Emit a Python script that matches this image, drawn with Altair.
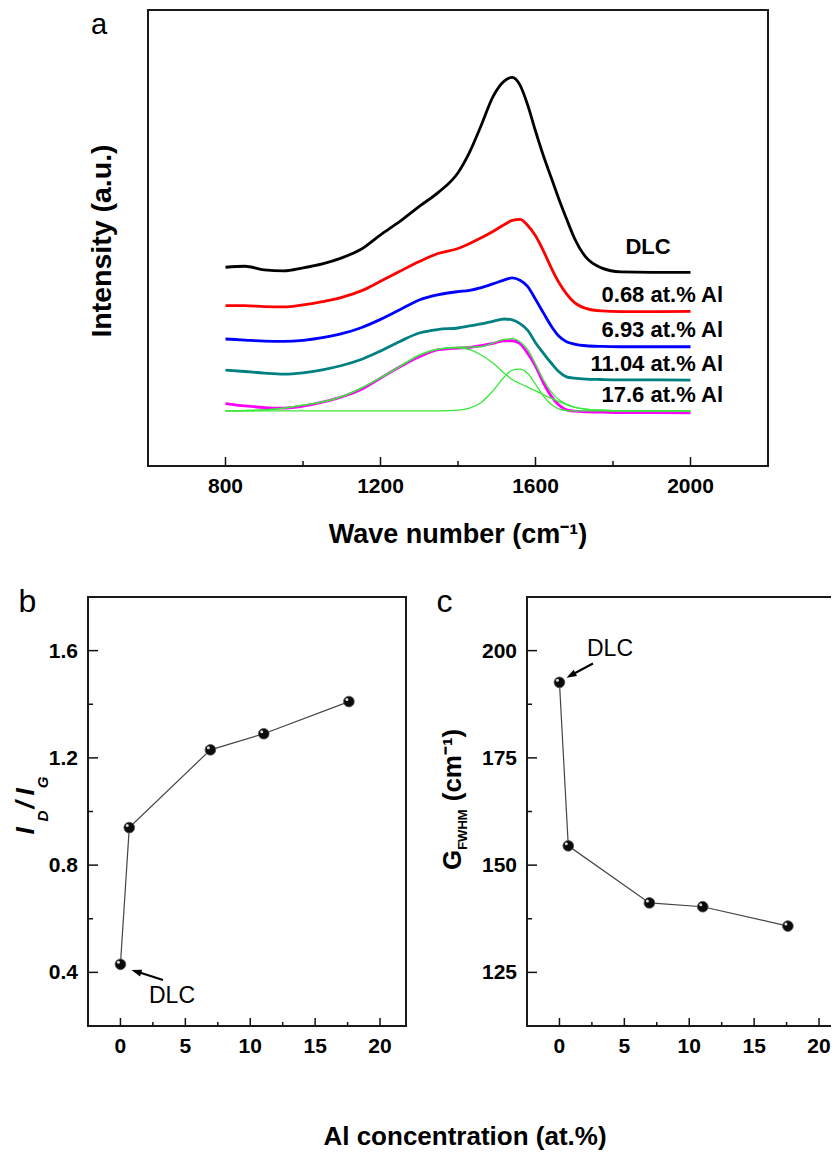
import altair as alt
import pandas as pd

# ---------------- data ----------------
wavenumber = [800, 850, 900, 950, 1000, 1050, 1100, 1150, 1200, 1250, 1300, 1350,
              1400, 1430, 1460, 1490, 1520, 1540, 1560, 1580, 1600, 1620, 1640,
              1660, 1680, 1700, 1730, 1770, 1820, 1900, 2000]

int_dlc = [198.3, 199.3, 195.7, 194.7, 197.7, 201.7, 207.7, 216.3, 230.7, 244.0,
           259.0, 273.3, 292.7, 313.3, 340.0, 368.3, 384.3, 387.7, 380.0, 360.0,
           334.3, 310.0, 288.3, 266.7, 246.7, 227.7, 208.3, 197.7, 193.7, 193.3, 193.3]
int_068 = [160.0, 160.0, 159.0, 158.7, 160.7, 164.0, 168.3, 174.7, 184.3, 194.3,
           204.0, 212.3, 217.0, 222.0, 227.7, 234.0, 241.0, 245.0, 246.0, 240.0,
           229.7, 215.0, 198.3, 183.3, 171.7, 163.3, 157.3, 154.7, 154.0, 154.0, 154.3]
int_693 = [126.7, 125.7, 124.7, 124.3, 125.3, 128.0, 132.0, 138.0, 146.3, 156.0,
           165.7, 171.0, 174.0, 175.3, 178.0, 181.7, 185.7, 187.7, 185.3, 179.0,
           166.3, 153.0, 140.0, 129.7, 124.0, 121.7, 120.0, 119.3, 119.0, 119.0, 119.0]
int_1104 = [95.7, 94.3, 92.7, 91.7, 93.0, 96.0, 100.3, 106.3, 114.7, 124.3,
            132.7, 136.3, 137.7, 139.7, 141.7, 144.3, 146.7, 145.7, 142.0, 135.3,
            123.0, 112.7, 103.0, 94.3, 89.0, 87.7, 86.7, 86.3, 86.0, 86.0, 85.7]
int_176 = [62.3, 60.0, 58.3, 57.7, 59.7, 63.7, 69.0, 76.3, 87.7, 99.0,
           109.0, 116.0, 117.7, 118.3, 120.0, 122.3, 125.0, 125.0, 122.0, 112.3,
           99.7, 83.3, 70.0, 61.0, 56.0, 54.7, 54.0, 53.7, 53.3, 53.3, 53.0]

fit_d_band = [55.0, 55.3, 56.0, 57.7, 60.7, 64.0, 69.3, 77.7, 88.0, 99.3,
              110.7, 116.7, 118.0, 116.0, 110.7, 102.7, 92.3, 86.3, 82.3, 78.7,
              75.0, 71.3, 67.7, 64.3, 61.3, 58.7, 56.7, 55.7, 55.0, 55.0, 55.0]
fit_g_band = [55.0, 55.0, 55.0, 55.0, 55.0, 55.0, 55.0, 55.0, 55.0, 55.0,
              55.0, 55.0, 55.7, 57.7, 63.3, 75.0, 89.0, 95.7, 96.7, 92.3,
              81.7, 70.0, 61.7, 57.0, 55.3, 55.0, 55.0, 55.0, 55.0, 55.0, 55.0]
fit_total = [55.0, 55.3, 56.0, 57.7, 60.7, 64.0, 69.3, 77.7, 88.0, 99.3,
             110.7, 116.7, 118.7, 118.7, 119.0, 122.7, 126.3, 127.0, 124.0, 116.0,
             101.7, 86.3, 74.3, 66.3, 61.7, 58.7, 56.7, 55.7, 55.0, 55.0, 55.0]

spectrum_names = ["DLC", "0.68 at.% Al", "6.93 at.% Al", "11.04 at.% Al", "17.6 at.% Al"]
spectrum_colors = ["#000000", "#ff0000", "#0000ff", "#008080", "#ff00ff"]

al_concentration = [0, 0.68, 6.93, 11.04, 17.6]
id_ig_ratio = [0.43, 0.94, 1.23, 1.29, 1.41]
g_fwhm = [192.6, 154.5, 141.2, 140.3, 135.8]

wn_major = [800, 1200, 1600, 2000]
wn_minor = [1000, 1400, 1800]
al_major = [0, 5, 10, 15, 20]
al_minor = [2.5, 7.5, 12.5, 17.5]
ratio_major = [0.4, 0.8, 1.2, 1.6]
ratio_minor = [0.6, 1.0, 1.4]
fwhm_major = [125, 150, 175, 200]
fwhm_minor = [137.5, 162.5, 187.5]

# ---------------- tables ----------------
spec_rows = []
for name, vals in zip(spectrum_names, [int_dlc, int_068, int_693, int_1104, int_176]):
    for w, v in zip(wavenumber, vals):
        spec_rows.append({"wn": w, "intensity": v, "sample": name})
spec_df = pd.DataFrame(spec_rows)

fit_rows = []
for comp, vals in zip(["D", "G", "sum"], [fit_d_band, fit_g_band, fit_total]):
    for w, v in zip(wavenumber, vals):
        fit_rows.append({"wn": w, "intensity": v, "component": comp})
fit_df = pd.DataFrame(fit_rows)

bc_df = pd.DataFrame({"al": al_concentration, "ratio": id_ig_ratio, "fwhm": g_fwhm})
dummy = pd.DataFrame({"k": [0]})

FONT = "Liberation Sans"
INK = "#111111"
TICK_FS = 21

# ---------------- layout geometry (pixels inside one plot area) ----------------
A_L, A_R, A_T, A_B = 60, 680, 0, 456        # panel a
B_L, B_R = 0, 318                            # panel b
C_L, C_R = 439, 757                          # panel c (runs past the page edge)
BC_T, BC_B = 587, 1016                       # panels b and c

xa = alt.Scale(domain=[600, 2200], range=[A_L, A_R], nice=False, zero=False)
ya = alt.Scale(domain=[0, 455], range=[A_B, A_T], nice=False, zero=False)
xb = alt.Scale(domain=[-2.5, 22], range=[B_L, B_R], nice=False, zero=False)
yb = alt.Scale(domain=[0.2, 1.8], range=[BC_B, BC_T], nice=False, zero=False)
xc = alt.Scale(domain=[-2.5, 22], range=[C_L, C_R], nice=False, zero=False)
yc = alt.Scale(domain=[112.5, 212.5], range=[BC_B, BC_T], nice=False, zero=False)


def txt(s, x, y, size, weight="bold", style=None, align="center",
        baseline="middle", angle=None):
    props = dict(text=s, fontSize=size, fontWeight=weight, align=align,
                 baseline=baseline, color="black", font=FONT)
    if style:
        props["fontStyle"] = style
    if angle is not None:
        props["angle"] = angle
    return alt.Chart(dummy).mark_text(**props).encode(x=alt.value(x), y=alt.value(y))


def frame(x1, x2, y1, y2):
    return alt.Chart(dummy).mark_rect(fill="white", fillOpacity=0, stroke="#1a1a1a",
                                      strokeWidth=2).encode(
        x=alt.value(x1), x2=alt.value(x2), y=alt.value(y1), y2=alt.value(y2))


def xticks(values, scale, ybottom, length):
    return alt.Chart(pd.DataFrame({"t": values})).mark_rule(
        color=INK, strokeWidth=1.5).encode(
        x=alt.X("t:Q", scale=scale, axis=None),
        y=alt.value(ybottom), y2=alt.value(ybottom - length))


def yticks(values, scale, xleft, length):
    return alt.Chart(pd.DataFrame({"t": values})).mark_rule(
        color=INK, strokeWidth=1.5).encode(
        y=alt.Y("t:Q", scale=scale, axis=None),
        x=alt.value(xleft), x2=alt.value(xleft + length))


def xlabels(values, scale, ypos, fmt):
    return alt.Chart(pd.DataFrame({"t": values})).mark_text(
        fontSize=TICK_FS, fontWeight="bold", color="black", font=FONT,
        align="center", baseline="middle").encode(
        x=alt.X("t:Q", scale=scale, axis=None), y=alt.value(ypos),
        text=alt.Text("t:Q", format=fmt))


def ylabels(values, scale, xpos, fmt):
    return alt.Chart(pd.DataFrame({"t": values})).mark_text(
        fontSize=TICK_FS, fontWeight="bold", color="black", font=FONT,
        align="right", baseline="middle", dy=1).encode(
        y=alt.Y("t:Q", scale=scale, axis=None), x=alt.value(xpos),
        text=alt.Text("t:Q", format=fmt))


layers = []

# ---------------- panel a ----------------
layers.append(frame(A_L, A_R, A_T, A_B))
layers.append(alt.Chart(spec_df).mark_line(strokeWidth=2.8, interpolate="monotone").encode(
    x=alt.X("wn:Q", scale=xa, axis=None),
    y=alt.Y("intensity:Q", scale=ya, axis=None),
    color=alt.Color("sample:N", scale=alt.Scale(domain=spectrum_names, range=spectrum_colors),
                    legend=None),
))
layers.append(alt.Chart(fit_df).mark_line(strokeWidth=1.3, color="#3ae83a",
                                          interpolate="monotone").encode(
    x=alt.X("wn:Q", scale=xa, axis=None),
    y=alt.Y("intensity:Q", scale=ya, axis=None),
    detail="component:N",
))
layers += [xticks(wn_major, xa, A_B, 9), xticks(wn_minor, xa, A_B, 5),
           xlabels(wn_major, xa, A_B + 21, "d")]
layers += [txt("a", A_L - 57, 24, 29, weight="normal", align="left", baseline="alphabetic"),
           txt("Intensity (a.u.)", A_L - 46, 231, 28.5, angle=270),
           txt("Wave number (cm⁻¹)", (A_L + A_R) / 2, 525, 27),
           txt("DLC", A_L + 500, 237, 22)]
for name, yy in zip(spectrum_names[1:], [285, 320, 354, 385]):
    layers.append(txt(name, A_L + 575, yy, 22, align="right"))

arrow_shape = "M0,0L0.6,1.7L-0.6,1.7Z"

# ---------------- panel b ----------------
layers.append(frame(B_L, B_R, BC_T, BC_B))
layers.append(alt.Chart(bc_df).mark_line(color="#444444", strokeWidth=1.2).encode(
    x=alt.X("al:Q", scale=xb, axis=None), y=alt.Y("ratio:Q", scale=yb, axis=None)))
layers.append(alt.Chart(bc_df).mark_circle(size=115, color="#0b0b0b", opacity=1,
                                           stroke="#555555", strokeWidth=0.8).encode(
    x=alt.X("al:Q", scale=xb, axis=None), y=alt.Y("ratio:Q", scale=yb, axis=None)))
layers.append(alt.Chart(bc_df).mark_circle(size=9, color="white", opacity=0.85,
                                           xOffset=-2, yOffset=-2).encode(
    x=alt.X("al:Q", scale=xb, axis=None), y=alt.Y("ratio:Q", scale=yb, axis=None)))
layers += [xticks(al_major, xb, BC_B, 8), xticks(al_minor, xb, BC_B, 4),
           yticks(ratio_major, yb, B_L, 10), yticks(ratio_minor, yb, B_L, 5),
           xlabels(al_major, xb, BC_B + 21, "d"),
           ylabels(ratio_major, yb, B_L - 10, ".1f")]
layers.append(alt.Chart(dummy).mark_rule(color="black", strokeWidth=2).encode(
    x=alt.value(B_L + 75), y=alt.value(BC_T + 383),
    x2=alt.value(B_L + 47), y2=alt.value(BC_T + 374)))
layers.append(alt.Chart(dummy).mark_point(shape=arrow_shape, filled=True, color="black",
                                          size=140, angle=287.6, opacity=1).encode(
    x=alt.value(B_L + 43.5), y=alt.value(BC_T + 373)))
layers += [txt("DLC", B_L + 84, BC_T + 399, 23, weight="normal"),
           txt("b", B_L - 69.5, BC_T + 15, 32, weight="normal", align="left",
               baseline="alphabetic"),
           txt("I", B_L - 62.5, BC_T + 234, 26, style="italic", angle=270),
           txt("D", B_L - 45.4, BC_T + 219, 15, style="italic", angle=270),
           txt("/", B_L - 62.5, BC_T + 208, 26, style="italic", angle=270),
           txt("I", B_L - 62.5, BC_T + 195, 26, style="italic", angle=270),
           txt("G", B_L - 45.4, BC_T + 185.5, 15, style="italic", angle=270),
           txt("Al concentration (at.%)", 377, BC_T + 540, 26)]

# ---------------- panel c ----------------
layers.append(frame(C_L, C_R, BC_T, BC_B))
layers.append(alt.Chart(bc_df).mark_line(color="#444444", strokeWidth=1.2).encode(
    x=alt.X("al:Q", scale=xc, axis=None), y=alt.Y("fwhm:Q", scale=yc, axis=None)))
layers.append(alt.Chart(bc_df).mark_circle(size=115, color="#0b0b0b", opacity=1,
                                           stroke="#555555", strokeWidth=0.8).encode(
    x=alt.X("al:Q", scale=xc, axis=None), y=alt.Y("fwhm:Q", scale=yc, axis=None)))
layers.append(alt.Chart(bc_df).mark_circle(size=9, color="white", opacity=0.85,
                                           xOffset=-2, yOffset=-2).encode(
    x=alt.X("al:Q", scale=xc, axis=None), y=alt.Y("fwhm:Q", scale=yc, axis=None)))
layers += [xticks(al_major, xc, BC_B, 8), xticks(al_minor, xc, BC_B, 4),
           yticks(fwhm_major, yc, C_L, 10), yticks(fwhm_minor, yc, C_L, 5),
           xlabels(al_major, xc, BC_B + 21, "d"),
           ylabels(fwhm_major, yc, C_L - 10, "d")]
layers.append(alt.Chart(dummy).mark_rule(color="black", strokeWidth=2).encode(
    x=alt.value(C_L + 66), y=alt.value(BC_T + 66.5),
    x2=alt.value(C_L + 42.5), y2=alt.value(BC_T + 79)))
layers.append(alt.Chart(dummy).mark_point(shape=arrow_shape, filled=True, color="black",
                                          size=140, angle=241.6, opacity=1).encode(
    x=alt.value(C_L + 39.5), y=alt.value(BC_T + 80.7)))
layers += [txt("DLC", C_L + 83, BC_T + 52, 23, weight="normal"),
           txt("c", C_L - 90.5, BC_T + 15, 32, weight="normal", align="left",
               baseline="alphabetic"),
           txt("G", C_L - 74, BC_T + 263, 26, angle=270),
           txt("FWHM", C_L - 63.7, BC_T + 232.6, 13, angle=270),
           txt("(cm⁻¹)", C_L - 74, BC_T + 168, 26, angle=270)]

# the page is 839 px wide: the svg ends at the right page margin, so panel c is cut
# off on the right as in the reference
chart = alt.layer(*layers).resolve_scale(
    x="independent", y="independent", color="independent"
).properties(
    width=743, height=BC_B,
    padding={"left": 80, "top": 2, "right": 0, "bottom": 129},
    autosize=alt.AutoSizeParams(type="none"),
).configure(font=FONT).configure_view(stroke="transparent", strokeWidth=0)

chart.save("out.html", embed_options={"renderer": "svg", "actions": False})
